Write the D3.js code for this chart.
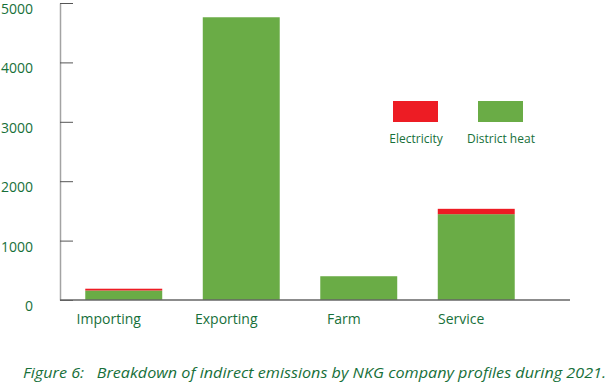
<!DOCTYPE html>
<html>
<head>
<meta charset="utf-8">
<script src="https://cdn.jsdelivr.net/npm/d3@7"></script>
<style>
  body { margin: 0; background: #fff; }
  text { font-family: "Open Sans", sans-serif; }
</style>
</head>
<body>
<script>
// Data
const categories = ["Importing", "Exporting", "Farm", "Service"];
const districtHeat = [160, 4760, 400, 1445];
const electricity = [30, 0, 0, 90];
const seriesNames = ["Electricity", "District heat"];
const yTicks = [0, 1000, 2000, 3000, 4000, 5000];

const width = 610, height = 388;
const textGreen = "#17703a";
const colors = { "District heat": "#6aac46", "Electricity": "#ed1c24" };

let svg = d3.select("body").append("svg")
    .attr("width", width)
    .attr("height", height);

let yscale = d3.scaleLinear()
    .domain([0, 5000])
    .range([300, 3]);

let xscale = d3.scaleBand()
    .domain(categories)
    .range([65, 535])
    .paddingInner(0.345)
    .paddingOuter(0.1725);

// stacked data
let rows = categories.map((c, i) => ({ cat: c, "District heat": districtHeat[i], "Electricity": electricity[i] }));
let stack = d3.stack().keys(["District heat", "Electricity"])(rows);

svg.append("g")
  .selectAll("g")
  .data(stack)
  .enter().append("g")
    .attr("fill", d => colors[d.key])
  .selectAll("rect")
  .data(d => d)
  .enter().append("rect")
    .attr("x", d => xscale(d.data.cat))
    .attr("y", d => yscale(d[1]))
    .attr("width", xscale.bandwidth())
    .attr("height", d => yscale(d[0]) - yscale(d[1]));

// y axis
let yaxis = svg.append("g")
    .attr("transform", "translate(60,0)")
    .call(d3.axisLeft(yscale).tickValues(yTicks).tickFormat(d3.format("d"))
        .tickSizeInner(-13).tickSizeOuter(0).tickPadding(27));
yaxis.select(".domain").attr("stroke", "#a3a3a3").attr("stroke-width", 1.5);
yaxis.selectAll(".tick line").attr("stroke", "#555");
yaxis.selectAll(".tick text")
    .attr("fill", textGreen)
    .attr("dy", "0.75em")
    .style("font-size", "14px")
    .style("font-family", "Open Sans, sans-serif");

// baseline
svg.append("line")
    .attr("x1", 60).attr("x2", 570)
    .attr("y1", yscale(0)).attr("y2", yscale(0))
    .attr("stroke", "#666")
    .attr("stroke-width", 1.5);

// x axis labels
let xaxis = svg.append("g")
    .attr("transform", `translate(0,${yscale(0)})`)
    .call(d3.axisBottom(xscale).tickSize(0).tickPadding(14));
xaxis.select(".domain").remove();
xaxis.selectAll(".tick text")
    .attr("fill", textGreen)
    .attr("dx", -15)
    .style("font-size", "14px")
    .style("font-family", "Open Sans, sans-serif");

// legend
const legendX = [393, 478];
seriesNames.forEach((name, i) => {
    svg.append("rect")
        .attr("x", legendX[i])
        .attr("y", 101)
        .attr("width", 45)
        .attr("height", 21)
        .attr("fill", colors[name]);
    svg.append("text")
        .attr("x", legendX[i] + 23)
        .attr("y", 143)
        .attr("text-anchor", "middle")
        .attr("fill", textGreen)
        .style("font-size", "12px")
        .text(name);
});

// caption
svg.append("text")
    .attr("x", 23)
    .attr("y", 378)
    .attr("fill", textGreen)
    .style("font-size", "15px")
    .style("font-style", "italic")
    .attr("textLength", 583)
    .attr("lengthAdjust", "spacingAndGlyphs")
    .attr("xml:space", "preserve")
    .text("Figure 6:   Breakdown of indirect emissions by NKG company profiles during 2021.");
</script>
</body>
</html>
